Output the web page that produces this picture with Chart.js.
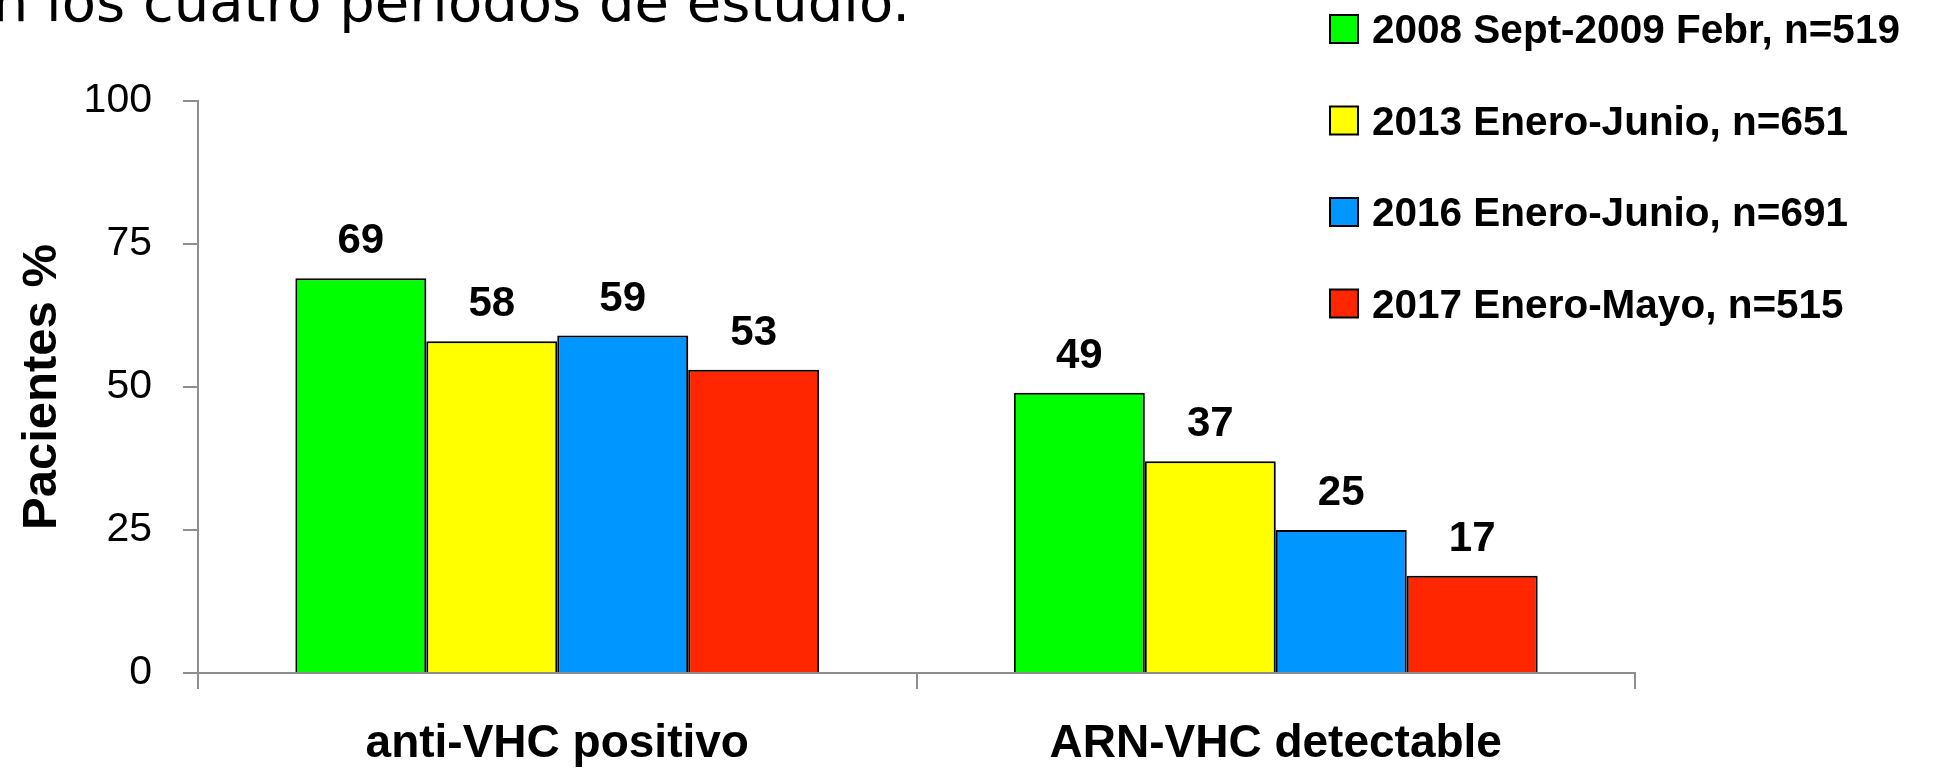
<!DOCTYPE html>
<html>
<head>
<meta charset="utf-8">
<title>Pacientes %</title>
<script src="https://cdn.jsdelivr.net/npm/chart.js@4.4.0/dist/chart.umd.min.js"></script>
<style>
    html, body { margin: 0; padding: 0; background: #fff; }
</style>
</head>
<body>
<canvas id="bar-chart" width="1949" height="768"></canvas>
<script>
var categories = ["anti-VHC positivo", "ARN-VHC detectable"];
var periods = ["2008 Sept-2009 Febr, n=519", "2013 Enero-Junio, n=651", "2016 Enero-Junio, n=691", "2017 Enero-Mayo, n=515"];
var period2008 = [69, 49];
var period2013 = [58, 37];
var period2016 = [59, 25];
var period2017 = [53, 17];
var yTicks = [0, 25, 50, 75, 100];
var yTitle = "Pacientes %";
var headline = "en los cuatro periodos de estudio.";

(function () {
    'use strict';

    var FONT = '"Liberation Sans", Arial, sans-serif';
    var AXIS_GRAY = '#8e8e8e';
    var colors = ['#00ff00', '#ffff00', '#0096ff', '#ff2600'];
    var series = [period2008, period2013, period2016, period2017];

    // soft drop shadow under the bars, like the slide
    var barShadow = {
        id: 'barShadow',
        beforeDatasetsDraw: function (chart) {
            var ctx = chart.ctx;
            ctx.save();
            ctx.shadowColor = 'rgba(0,0,0,0.25)';
            ctx.shadowBlur = 4;
            ctx.shadowOffsetX = 2;
            ctx.shadowOffsetY = 2;
        },
        afterDatasetsDraw: function (chart) {
            chart.ctx.restore();
        }
    };

    var valueLabels = {
        id: 'valueLabels',
        afterDatasetsDraw: function (chart) {
            var ctx = chart.ctx;
            ctx.save();
            ctx.font = 'bold 42px ' + FONT;
            ctx.fillStyle = '#000';
            ctx.textAlign = 'center';
            ctx.textBaseline = 'alphabetic';
            chart.data.datasets.forEach(function (ds, i) {
                chart.getDatasetMeta(i).data.forEach(function (bar, j) {
                    ctx.fillText(ds.data[j], bar.x, bar.y - 25);
                });
            });
            ctx.restore();
        }
    };

    // legend sits over the top right of the plot, one item per line
    var sideLegend = {
        id: 'sideLegend',
        afterDraw: function (chart) {
            var ctx = chart.ctx;
            ctx.save();
            ctx.font = 'bold 40.5px ' + FONT;
            ctx.textAlign = 'left';
            ctx.textBaseline = 'alphabetic';
            chart.data.datasets.forEach(function (ds, i) {
                var top = 15 + i * 91.5;
                ctx.fillStyle = ds.backgroundColor;
                ctx.fillRect(1330, top, 28, 28);
                ctx.strokeStyle = '#000';
                ctx.lineWidth = 2;
                ctx.strokeRect(1330, top, 28, 28);
                ctx.fillStyle = '#000';
                ctx.fillText(ds.label, 1372, top + 28);
            });
            ctx.restore();
        }
    };

    // cut-off line of slide text at the very top
    var headlineText = {
        id: 'headlineText',
        afterDraw: function (chart) {
            var ctx = chart.ctx;
            ctx.save();
            ctx.font = '56px "DejaVu Sans", sans-serif';
            ctx.fillStyle = '#000';
            ctx.textAlign = 'right';
            ctx.textBaseline = 'alphabetic';
            ctx.fillText(headline, 910, 21);
            ctx.restore();
        }
    };

    new Chart(document.getElementById('bar-chart'), {
        type: 'bar',
        data: {
            labels: categories,
            datasets: series.map(function (values, i) {
                return {
                    label: periods[i],
                    data: values,
                    backgroundColor: colors[i],
                    borderColor: '#000',
                    borderWidth: 2,
                    categoryPercentage: 0.729,
                    barPercentage: 1.0
                };
            })
        },
        options: {
            responsive: false,
            animation: false,
            layout: { padding: { left: 0, right: 314, top: 101, bottom: 0 } },
            plugins: {
                legend: { display: false },
                tooltip: { enabled: false }
            },
            scales: {
                x: {
                    afterFit: function (axis) { axis.height = 95; },
                    grid: {
                        drawOnChartArea: false,
                        tickLength: 16,
                        color: AXIS_GRAY,
                        lineWidth: 2
                    },
                    border: { color: AXIS_GRAY, width: 2 },
                    ticks: {
                        color: '#000',
                        padding: 32,
                        font: { family: FONT, size: 46, weight: 'bold', lineHeight: 1.0 }
                    }
                },
                y: {
                    min: 0,
                    max: 100,
                    afterFit: function (axis) { axis.width = 198; },
                    afterBuildTicks: function (axis) {
                        axis.ticks = yTicks.map(function (v) { return { value: v }; });
                    },
                    grid: {
                        drawOnChartArea: false,
                        tickLength: 15,
                        color: AXIS_GRAY,
                        lineWidth: 2
                    },
                    border: { color: AXIS_GRAY, width: 2 },
                    ticks: {
                        color: '#000',
                        padding: 31,
                        font: { family: FONT, size: 41 }
                    },
                    title: {
                        display: true,
                        text: yTitle,
                        color: '#000',
                        padding: { top: 13, bottom: 0 },
                        font: { family: FONT, size: 49, weight: 'bold' }
                    }
                }
            }
        },
        plugins: [barShadow, valueLabels, sideLegend, headlineText]
    });
})();
</script>
</body>
</html>
